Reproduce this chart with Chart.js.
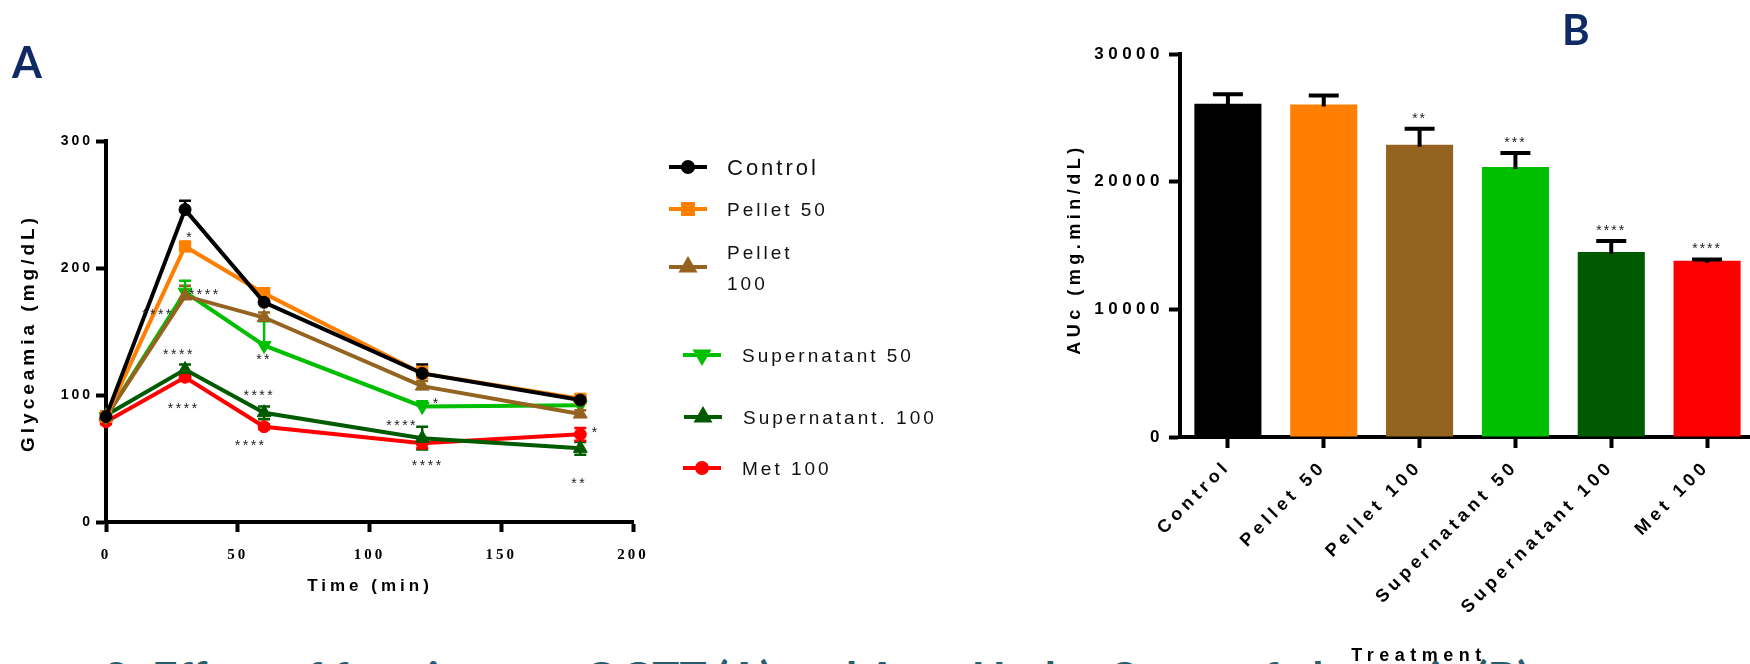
<!DOCTYPE html>
<html>
<head>
<meta charset="utf-8">
<title>OGTT and AUC</title>
<script src="https://cdn.jsdelivr.net/npm/chart.js@4.4.0/dist/chart.umd.min.js"></script>
<style>
  html, body { margin: 0; padding: 0; background: #fff; width: 1750px; height: 664px; overflow: hidden; }
  #caption { position: absolute; left: 103px; top: 656px; font-family: Lato, sans-serif; font-weight: bold; font-size: 40px; line-height: 1; color: #275e6d; white-space: nowrap; }
  #glucose { position: absolute; left: 0; top: 0; }
  #auc { position: absolute; left: 900px; top: 0; }
</style>
</head>
<body>
<div id="caption">2: Effect of fractions on OGTT (A) and Area Under Curve of glycemia (B)</div>
<canvas id="glucose" width="1000" height="664"></canvas>
<canvas id="auc" width="860" height="664"></canvas>
<script>
// ---- data (A: glycaemia over time, B: area under curve) ----
var times = [0, 30, 60, 120, 180];
var timeTicks = [0, 50, 100, 150, 200];
var glucoseTicks = [0, 100, 200, 300];

var control = [83, 246, 173, 117, 96];
var controlErr = [3, 7, 8, 7, 3];
var pellet50 = [83, 217, 180, 117, 97];
var pellet50Err = [3, 3, 4, 5, 3];
var pellet100 = [83, 178, 161, 107, 85];
var pellet100Err = [3, 8, 4, 4, 3];
var sup50 = [83, 181, 139, 91, 92];
var sup50Err = [3, 9, 19, 4, 2];
var sup100 = [84, 120, 86, 66, 58];
var sup100Err = [3, 4, 5, 9, 5];
var met100 = [79, 114, 75, 62, 69];
var met100Err = [2, 3, 2, 4, 5];

var legendLabels = ['Control', 'Pellet 50', ['Pellet', '100'], 'Supernatant 50', 'Supernatant. 100', 'Met 100'];

// [time, glycaemia, label]
var glucoseStars = [
    [32, 226, '*'], [37.5, 181, '****'], [19.7, 165, '****'], [27.7, 134, '****'],
    [60, 130, '**'], [58.2, 101.6, '****'], [29.5, 91, '****'], [54.9, 62, '****'],
    [125.5, 95, '*'], [112.4, 78, '****'], [122.1, 46.6, '****'],
    [185.9, 72, '*'], [179.6, 32, '**']
];

var treatments = ['Control', 'Pellet 50', 'Pellet 100', 'Supernatant 50', 'Supernatant 100', 'Met 100'];
var aucMean = [26100, 26050, 22900, 21150, 14500, 13800];
var aucSem = [750, 700, 1250, 1100, 850, 100];
var aucStars = ['', '', '**', '***', '****', '****'];
var aucTicks = [0, 10000, 20000, 30000];

// ---- styles ----
var colors = ['#000000', '#ff8000', '#946320', '#00bf00', '#005a00', '#ff0000'];
var NAVY = '#102a66';
var SANS = 'Liberation Sans, Arial, sans-serif';

function text(ctx, str, x, y, font, spacing, align, baseline, rot) {
    ctx.save();
    ctx.font = font;
    ctx.letterSpacing = spacing + 'px';
    ctx.textAlign = align || 'left';
    ctx.textBaseline = baseline || 'middle';
    ctx.translate(x, y);
    if (rot) ctx.rotate(rot);
    ctx.fillText(str, 0, 0);
    ctx.restore();
}

function marker(ctx, style, rot, r, x, y) {
    if (Chart.helpers && Chart.helpers.drawPoint) {
        Chart.helpers.drawPoint(ctx, { pointStyle: style, rotation: rot, radius: r, borderWidth: 1 }, x, y);
    } else {
        ctx.beginPath(); ctx.arc(x, y, r, 0, Math.PI * 2); ctx.fill();
    }
}

function spacing(px) {
    return {
        id: 'spacing',
        beforeDraw: function (chart) { chart.ctx.letterSpacing = px + 'px'; },
        afterDraw: function (chart) { chart.ctx.letterSpacing = '0px'; }
    };
}

function series(i, values, err, style, rot, radius, both) {
    return {
        label: treatments[i],
        data: times.map(function (t, j) { return { x: t, y: values[j] }; }),
        err: err,
        errBoth: both,
        borderColor: colors[i],
        backgroundColor: colors[i],
        pointBackgroundColor: colors[i],
        pointBorderColor: colors[i],
        pointStyle: style,
        pointRotation: rot,
        pointRadius: radius,
        pointBorderWidth: 1,
        borderWidth: 4,
        tension: 0,
        clip: false
    };
}

// ---- A: line chart ----
var lineExtras = {
    id: 'lineExtras',
    beforeDatasetsDraw: function (chart) {
        var ctx = chart.ctx, xs = chart.scales.x, ys = chart.scales.y;
        chart.data.datasets.forEach(function (ds) {
            ctx.save();
            ctx.strokeStyle = ds.borderColor;
            ctx.lineWidth = 2.5;
            ds.data.forEach(function (p, j) {
                var e = ds.err[j];
                var px = xs.getPixelForValue(p.x);
                var top = ys.getPixelForValue(p.y + e);
                var bot = ys.getPixelForValue(ds.errBoth ? p.y - e : p.y);
                ctx.beginPath();
                ctx.moveTo(px, top); ctx.lineTo(px, bot);
                ctx.moveTo(px - 6, top); ctx.lineTo(px + 6, top);
                if (ds.errBoth) { ctx.moveTo(px - 6, bot); ctx.lineTo(px + 6, bot); }
                ctx.stroke();
            });
            ctx.restore();
        });
    },
    afterDraw: function (chart) {
        var ctx = chart.ctx, xs = chart.scales.x, ys = chart.scales.y;
        ctx.save();
        ctx.fillStyle = '#222';
        glucoseStars.forEach(function (s) {
            text(ctx, s[2], xs.getPixelForValue(s[0]), ys.getPixelForValue(s[1]) + 3, '14px ' + SANS, 2.5, 'center');
        });

        // legend
        var rows = [167, 209, 267, 355, 417, 468];
        var lineX = [669, 669, 669, 683, 684, 683];
        var textX = [727, 727, 727, 742, 743, 742];
        chart.data.datasets.forEach(function (ds, i) {
            var y = rows[i], x0 = lineX[i];
            ctx.strokeStyle = ds.borderColor;
            ctx.fillStyle = ds.borderColor;
            ctx.lineWidth = 4;
            ctx.beginPath(); ctx.moveTo(x0, y); ctx.lineTo(x0 + 38, y); ctx.stroke();
            marker(ctx, ds.pointStyle, ds.pointRotation, ds.pointRadius - 1, x0 + 19, y);
            ctx.fillStyle = '#111';
            var lab = legendLabels[i];
            var font = (i === 0 ? '22px ' : '19px ') + SANS;
            if (Array.isArray(lab)) {
                text(ctx, lab[0], textX[i], y - 13, font, 3);
                text(ctx, lab[1], textX[i], y + 18, font, 3);
            } else {
                text(ctx, lab, textX[i], y + 2, font, 3);
            }
        });

        ctx.fillStyle = '#000';
        text(ctx, 'Glyceamia (mg/dL)', 29, 333, 'bold 19px ' + SANS, 4, 'center', 'middle', -Math.PI / 2);
        text(ctx, 'Time (min)', 370, 586, 'bold 17px ' + SANS, 4, 'center');
        ctx.fillStyle = NAVY;
        text(ctx, 'A', 12, 78, 'bold 43px Lato, sans-serif', 0, 'left', 'alphabetic');
        ctx.restore();
    }
};

new Chart(document.getElementById('glucose'), {
    type: 'line',
    data: {
        datasets: [
            series(0, control, controlErr, 'circle', 0, 6, false),
            series(1, pellet50, pellet50Err, 'rect', 0, 8, false),
            series(2, pellet100, pellet100Err, 'triangle', 0, 8, false),
            series(3, sup50, sup50Err, 'triangle', 180, 8, false),
            series(4, sup100, sup100Err, 'triangle', 0, 8, true),
            series(5, met100, met100Err, 'circle', 0, 6, true)
        ]
    },
    options: {
        responsive: false,
        animation: false,
        devicePixelRatio: 1,
        layout: { padding: { left: 0, top: 141, right: 367, bottom: 0 } },
        plugins: { legend: { display: false }, tooltip: { enabled: false } },
        scales: {
            x: {
                type: 'linear', min: 0, max: 200,
                border: { width: 4, color: '#000' },
                grid: { drawOnChartArea: false, tickLength: 10, tickWidth: 4, tickColor: '#000' },
                ticks: { autoSkip: false, color: '#000', padding: 14, font: { family: 'Liberation Serif', weight: 'bold', size: 15 }, callback: function (v) { return String(v); } },
                afterBuildTicks: function (s) { s.ticks = timeTicks.map(function (v) { return { value: v }; }); },
                afterFit: function (s) { s.height = 142; }
            },
            y: {
                min: 0, max: 300,
                border: { width: 4, color: '#000' },
                grid: { drawOnChartArea: false, tickLength: 10, tickWidth: 4, tickColor: '#000' },
                ticks: { autoSkip: false, color: '#000', padding: 3, font: { family: 'Liberation Sans', weight: 'bold', size: 14 }, callback: function (v) { return String(v); } },
                afterBuildTicks: function (s) { s.ticks = glucoseTicks.map(function (v) { return { value: v }; }); },
                afterFit: function (s) { s.width = 106; }
            }
        }
    },
    plugins: [spacing(3), lineExtras]
});

// ---- B: bar chart ----
var barExtras = {
    id: 'barExtras',
    afterDatasetsDraw: function (chart) {
        var ctx = chart.ctx, ys = chart.scales.y;
        var ds = chart.data.datasets[0];
        var meta = chart.getDatasetMeta(0);
        ctx.save();
        ctx.strokeStyle = '#000';
        ctx.lineWidth = 4;
        meta.data.forEach(function (bar, i) {
            var top = ys.getPixelForValue(ds.data[i] + ds.err[i]);
            ctx.beginPath();
            ctx.moveTo(bar.x, bar.y + 2); ctx.lineTo(bar.x, top);
            ctx.moveTo(bar.x - 15, top); ctx.lineTo(bar.x + 15, top);
            ctx.stroke();
            if (ds.stars[i]) {
                ctx.fillStyle = '#222';
                text(ctx, ds.stars[i], bar.x, top - 10, '14px ' + SANS, 2, 'center');
            }
        });
        ctx.restore();
    },
    afterDraw: function (chart) {
        var ctx = chart.ctx;
        ctx.save();
        ctx.fillStyle = '#000';
        text(ctx, 'AUc (mg.min/dL)', 175, 249, 'bold 18px ' + SANS, 4.5, 'center', 'middle', -Math.PI / 2);
        text(ctx, 'Treatment', 519, 661, 'bold 18px ' + SANS, 5.5, 'center', 'alphabetic');
        ctx.fillStyle = NAVY;
        text(ctx, 'B', 662, 45, 'bold 42px Lato, sans-serif', 0, 'left', 'alphabetic');
        ctx.restore();
    }
};

new Chart(document.getElementById('auc'), {
    type: 'bar',
    data: {
        labels: treatments,
        datasets: [{
            data: aucMean,
            err: aucSem,
            stars: aucStars,
            backgroundColor: colors,
            borderWidth: 0,
            barPercentage: 0.7,
            categoryPercentage: 1
        }]
    },
    options: {
        responsive: false,
        animation: false,
        devicePixelRatio: 1,
        layout: { padding: { left: 0, top: 54, right: 5, bottom: 0 } },
        plugins: { legend: { display: false }, tooltip: { enabled: false } },
        scales: {
            x: {
                z: 1,
                border: { width: 4, color: '#000' },
                grid: { offset: false, drawOnChartArea: false, tickLength: 11, tickWidth: 4, tickColor: '#000' },
                ticks: { autoSkip: false, color: '#000', minRotation: 45, maxRotation: 45, padding: 8, font: { family: 'Liberation Sans', weight: 'bold', size: 18 } },
                afterFit: function (s) { s.height = 227; }
            },
            y: {
                z: 1,
                min: 0, max: 30000,
                border: { width: 4, color: '#000' },
                grid: { drawOnChartArea: false, tickLength: 11, tickWidth: 4, tickColor: '#000' },
                ticks: { autoSkip: false, color: '#000', padding: 5, font: { family: 'Liberation Sans', weight: 'bold', size: 17 }, callback: function (v) { return String(v); } },
                afterBuildTicks: function (s) { s.ticks = aucTicks.map(function (v) { return { value: v }; }); },
                afterFit: function (s) { s.width = 280; }
            }
        }
    },
    plugins: [spacing(4.5), barExtras]
});

// fit the caption to the width it spans in the figure
var cap = document.getElementById('caption');
var w = cap.getBoundingClientRect().width;
var fs = 40 * 1427 / w;
cap.style.fontSize = fs + 'px';
cap.style.top = (663 - 0.17 * fs) + 'px';
</script>
</body>
</html>
